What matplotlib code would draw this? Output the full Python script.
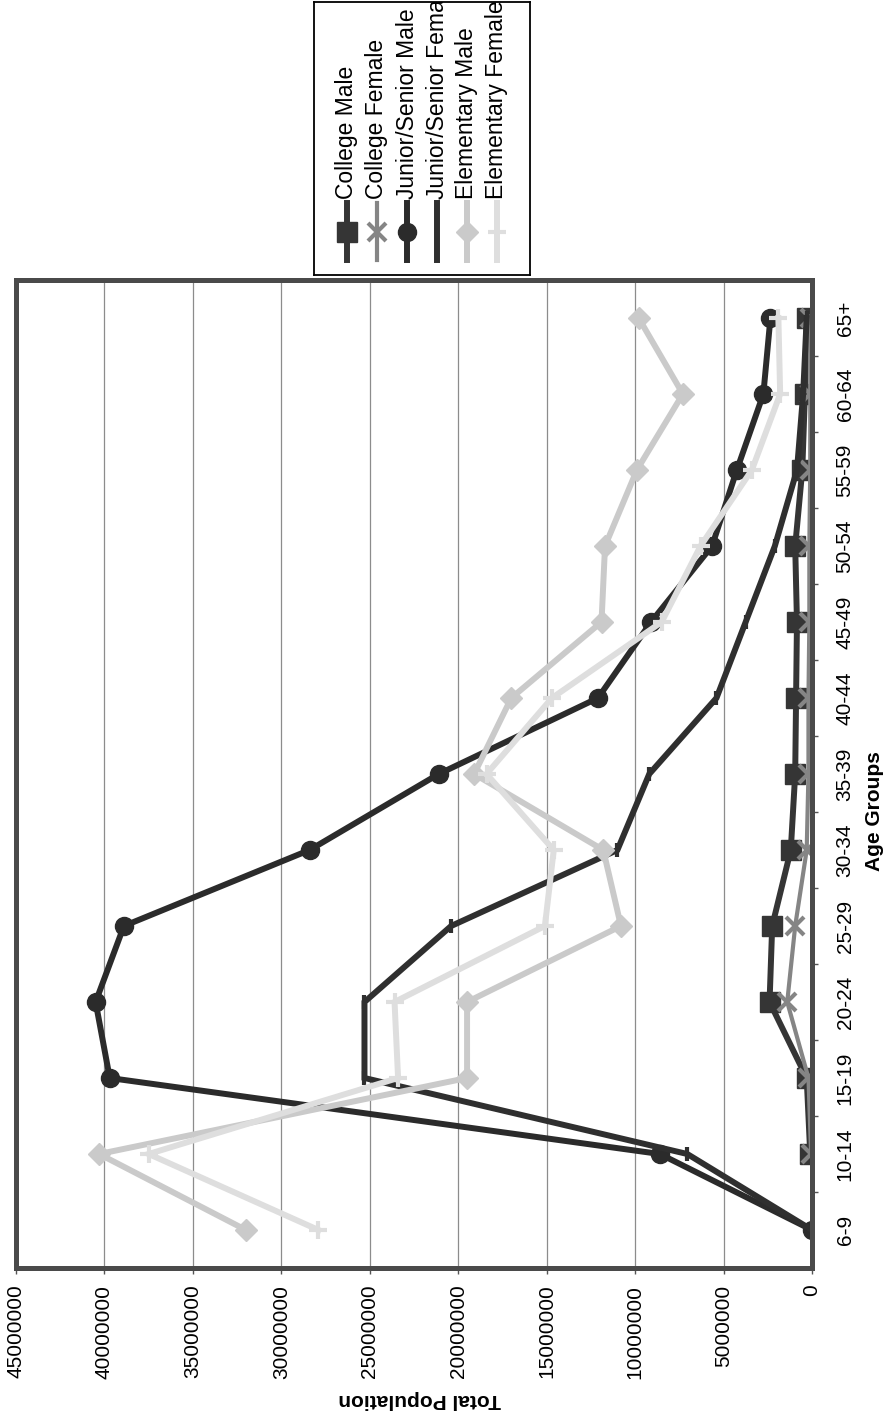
import matplotlib.pyplot as plt
import numpy as np

plt.rcParams['font.family'] = ['Liberation Sans', 'DejaVu Sans']

age_groups = ["6-9", "10-14", "15-19", "20-24", "25-29", "30-34", "35-39",
              "40-44", "45-49", "50-54", "55-59", "60-64", "65+"]

# values in millions (college has no 6-9 point)
college_male = [np.nan, 0.1, 0.3, 2.4, 2.25, 1.2, 0.95, 0.9, 0.85, 0.95, 0.55, 0.4, 0.3]
college_female = [np.nan, 0.05, 0.2, 1.4, 0.95, 0.3, 0.2, 0.2, 0.15, 0.15, 0.1, 0.1, 0.1]
jrsr_male = [0, 8.6, 39.7, 40.5, 38.9, 28.4, 21.1, 12.1, 9.1, 5.65, 4.25, 2.75, 2.35]
jrsr_female = [0, 7.05, 25.3, 25.3, 20.4, 11.0, 9.2, 5.4, 3.75, 2.1, 0.85, 0.5, 0.3]
elem_male = [32.0, 40.3, 19.5, 19.5, 10.8, 11.8, 19.1, 17.0, 11.9, 11.7, 9.9, 7.3, 9.8]
elem_female = [27.9, 37.5, 23.4, 23.6, 15.1, 14.6, 18.4, 14.7, 8.5, 6.3, 3.4, 1.8, 1.9]

value_ticks = list(range(0, 45000001, 5000000))

# label, data, color, marker, markersize, line width
series = [
    ("College Male", college_male, "#353535", "s", 14, 4.3),
    ("College Female", college_female, "#858585", "x", 13, 3.0),
    ("Junior/Senior Male", jrsr_male, "#2b2b2b", "o", 13, 4.3),
    ("Junior/Senior Female", jrsr_female, "#2f2f2f", "|", 10, 4.3),
    ("Elementary Male", elem_male, "#cacaca", "D", 11, 4.3),
    ("Elementary Female", elem_female, "#dedede", "+", 13, 4.3),
]

W, H = 891, 1419
fig = plt.figure(figsize=(W / 100, H / 100), dpi=100)

# chart is drawn turned a quarter turn: values run right-to-left, ages bottom-to-top
ax = fig.add_axes([16 / W, 1 - 1268 / H, 796 / W, 988 / H])
idx = np.arange(len(age_groups))
for name, vals, col, mk, ms, lw in series:
    v = np.array(vals) * 1e6
    ax.plot(v, idx, color=col, lw=lw, marker=mk, ms=ms, mew=3 if mk in "x+|" else 1,
            mec=col, mfc=col, solid_joinstyle="miter")

ax.set_xlim(45000000, 0)
ax.set_ylim(-0.5, len(age_groups) - 0.5)

ax.set_xticks(value_ticks)
ax.set_xticklabels([str(t) for t in value_ticks], rotation=90, fontsize=15)
ax.tick_params(axis="x", direction="out", length=4, width=1, color="#555555", pad=8)
ax.grid(axis="x", color="#8c8c8c", lw=0.9)
ax.set_axisbelow(True)

ax.yaxis.tick_right()
ax.set_yticks(idx)
ax.set_yticklabels(age_groups, rotation=90, va="center", fontsize=15)
ax.set_yticks(idx[:-1] + 0.5, minor=True)
ax.tick_params(axis="y", which="major", length=0, pad=17)
ax.tick_params(axis="y", which="minor", direction="out", length=4, width=1, color="#555555")

for sp in ax.spines.values():
    sp.set_color("#4a4a4a")
    sp.set_linewidth(3.6)

ax.set_xlabel("Total Population", rotation=180, fontsize=15, fontweight="bold", va="center")
ax.xaxis.set_label_coords(0.507, -0.1336)
ax.yaxis.set_label_position("right")
ax.set_ylabel("Age Groups", rotation=90, fontsize=15, fontweight="bold", va="center")
ax.yaxis.set_label_coords(1.078, 0.4626)

# legend box, also turned; long names get cut at the box edge like the original
leg = fig.add_axes([314 / W, 1 - 275 / H, 216 / W, 273 / H])
leg.set_xlim(314, 530)
leg.set_ylim(275, 2)
leg.set_xticks([])
leg.set_yticks([])
for sp in leg.spines.values():
    sp.set_color("black")
    sp.set_linewidth(1.3)
leg_x = [347, 377, 407, 437, 467, 497]
for (name, vals, col, mk, ms, lw), lx in zip(series, leg_x):
    leg.plot([lx, lx], [203, 260], color=col, lw=lw)
    if mk != "|":
        leg.plot([lx], [232], marker=mk, ms=ms, color=col, mew=3 if mk in "x+" else 1)
    leg.text(lx, 199, name, rotation=90, ha="center", va="bottom", fontsize=16.5, clip_on=True)

fig.savefig("out.png", dpi=100, facecolor="white")
